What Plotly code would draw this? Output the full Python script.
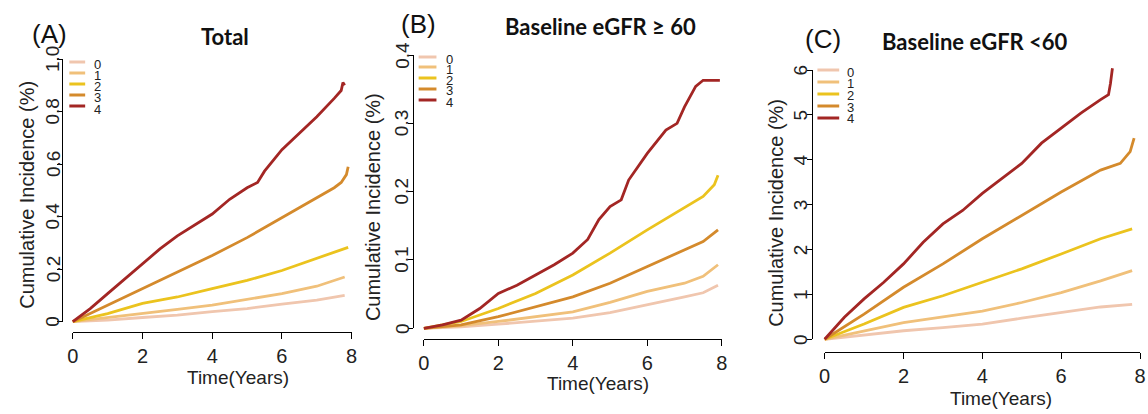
import plotly.graph_objects as go

# ---------------- data ----------------
groups = ["0", "1", "2", "3", "4"]
x_ticks = [0, 2, 4, 6, 8]

# Panel A: Total
a_t0 = [0, 1, 2, 3, 4, 5, 6, 7, 7.8]
a_v0 = [0, 0.006, 0.016, 0.025, 0.038, 0.05, 0.067, 0.082, 0.10]
a_t1 = [0, 1, 2, 3, 4, 5, 6, 7, 7.8]
a_v1 = [0, 0.015, 0.031, 0.047, 0.063, 0.084, 0.107, 0.135, 0.17]
a_t2 = [0, 1, 2, 3, 4, 5, 6, 7, 7.9]
a_v2 = [0, 0.031, 0.07, 0.094, 0.126, 0.157, 0.195, 0.24, 0.283]
a_t3 = [0, 1, 2, 3, 4, 5, 6, 7, 7.5, 7.7, 7.85, 7.9]
a_v3 = [0, 0.063, 0.126, 0.19, 0.252, 0.32, 0.397, 0.472, 0.51, 0.53, 0.56, 0.59]
a_t4 = [0, 0.5, 1, 1.5, 2, 2.5, 3, 3.5, 4, 4.5, 5, 5.3, 5.5, 6, 6.5, 7, 7.5, 7.7, 7.75, 7.8]
a_v4 = [0, 0.05, 0.107, 0.164, 0.22, 0.277, 0.327, 0.37, 0.41, 0.466, 0.51, 0.53,
        0.573, 0.655, 0.718, 0.78, 0.85, 0.88, 0.91, 0.9]
a_yticks = [0, 0.2, 0.4, 0.6, 0.8, 1.0]
a_yticktext = ["0", "0.2", "0.4", "0.6", "0.8", "1.0"]

# Panel B: Baseline eGFR >= 60
b_t0 = [0, 1, 2, 3, 4, 5, 6, 7, 7.5, 7.9]
b_v0 = [0, 0.002, 0.006, 0.01, 0.015, 0.023, 0.034, 0.046, 0.052, 0.063]
b_t1 = [0, 1, 2, 3, 4, 5, 6, 7, 7.5, 7.9]
b_v1 = [0, 0.004, 0.01, 0.017, 0.024, 0.038, 0.054, 0.066, 0.076, 0.093]
b_t2 = [0, 1, 2, 3, 4, 5, 6, 7, 7.5, 7.8, 7.9]
b_v2 = [0, 0.01, 0.029, 0.051, 0.078, 0.11, 0.144, 0.176, 0.193, 0.21, 0.224]
b_t3 = [0, 1, 2, 3, 4, 5, 6, 7, 7.5, 7.9]
b_v3 = [0, 0.005, 0.017, 0.032, 0.046, 0.066, 0.09, 0.115, 0.127, 0.144]
b_t4 = [0, 0.5, 1, 1.5, 2, 2.5, 3, 3.5, 4, 4.4, 4.7, 5, 5.3, 5.5, 6, 6.5, 6.8, 7, 7.3, 7.5, 7.95]
b_v4 = [0, 0.005, 0.012, 0.029, 0.051, 0.063, 0.078, 0.093, 0.11, 0.13, 0.159, 0.178,
        0.188, 0.217, 0.256, 0.29, 0.30, 0.324, 0.354, 0.363, 0.363]
b_yticks = [0, 0.1, 0.2, 0.3, 0.4]
b_yticktext = ["0", "0.1", "0.2", "0.3", "0.4"]

# Panel C: Baseline eGFR < 60
c_t0 = [0, 1, 2, 3, 4, 5, 6, 7, 7.8]
c_v0 = [0, 0.09, 0.19, 0.26, 0.34, 0.47, 0.6, 0.72, 0.78]
c_t1 = [0, 1, 2, 3, 4, 5, 6, 7, 7.8]
c_v1 = [0, 0.19, 0.37, 0.5, 0.63, 0.82, 1.04, 1.3, 1.53]
c_t2 = [0, 1, 2, 3, 4, 5, 6, 7, 7.8]
c_v2 = [0, 0.34, 0.71, 0.97, 1.27, 1.57, 1.9, 2.24, 2.46]
c_t3 = [0, 1, 2, 3, 4, 5, 6, 7, 7.5, 7.75, 7.85]
c_v3 = [0, 0.56, 1.16, 1.68, 2.24, 2.76, 3.28, 3.77, 3.92, 4.18, 4.48]
c_t4 = [0, 0.5, 1, 1.5, 2, 2.5, 3, 3.5, 4, 4.5, 5, 5.5, 6, 6.5, 7, 7.2, 7.25, 7.3]
c_v4 = [0, 0.49, 0.9, 1.27, 1.68, 2.16, 2.57, 2.87, 3.25, 3.58, 3.92, 4.37, 4.7,
        5.04, 5.34, 5.45, 5.7, 6.04]
c_yticks = [0, 1, 2, 3, 4, 5, 6]
c_yticktext = ["0", "1", "2", "3", "4", "5", "6"]

titles = ["Total", "Baseline eGFR \u2265 60", "Baseline eGFR <60"]
letters = ["(A)", "(B)", "(C)"]
x_title = "Time(Years)"
y_title = "Cumulative Incidence (%)"

# ---------------- style ----------------
colors = ["#F0C6AE", "#F0C07A", "#EBC31E", "#D48A2C", "#A32624"]
W, H = 1148, 414
FONT = "Liberation Sans, Arial, sans-serif"
TFONT = "Lato, Liberation Sans, sans-serif"


def px(x):
    return x / W


def py(y):
    return 1 - y / H


panels = [
    dict(series=[(a_t0, a_v0), (a_t1, a_v1), (a_t2, a_v2), (a_t3, a_v3), (a_t4, a_v4)],
         top=1.0, yticks=a_yticks, ytext=a_yticktext,
         x0p=67.5, x8p=349.3, y0p=321.7, ytp=59, yline=56.5, xline=332, xmax=8.3, ylab_x=47.5,
         letter_pos=(44, 34), title_pos=(221, 37), xt_pos=(234, 377), yt_pos=(21, 195),
         leg_x=(64, 80), leg_y=[62, 73, 84, 95, 106], lab_x=92, lab_y=[64, 75, 86, 97, 109]),
    dict(series=[(b_t0, b_v0), (b_t1, b_v1), (b_t2, b_v2), (b_t3, b_v3), (b_t4, b_v4)],
         top=0.4, yticks=b_yticks, ytext=b_yticktext,
         x0p=422.3, x8p=723.3, y0p=328.3, ytp=55, yline=411, xline=338.5, xmax=8.3, ylab_x=400,
         letter_pos=(417, 24), title_pos=(601, 26), xt_pos=(598, 383), yt_pos=(371, 207),
         leg_x=(417, 435), leg_y=[57, 67, 78, 89, 100], lab_x=448, lab_y=[60, 70, 81, 91, 102]),
    dict(series=[(c_t0, c_v0), (c_t1, c_v1), (c_t2, c_v2), (c_t3, c_v3), (c_t4, c_v4)],
         top=6, yticks=c_yticks, ytext=c_yticktext,
         x0p=827.3, x8p=1146, y0p=339.3, ytp=70, yline=815, xline=352.3, xmax=8.04, ylab_x=803,
         letter_pos=(826, 39), title_pos=(979, 41), xt_pos=(1006, 398), yt_pos=(778, 213),
         leg_x=(820, 842), leg_y=[70, 82, 94, 106, 118], lab_x=853, lab_y=[72, 83, 95, 107, 119]),
]

fig = go.Figure()
layout = {}
annotations = []
shapes = []

for i, p in enumerate(panels):
    k = i + 1
    kt = i + 4
    sx = (p["x8p"] - p["x0p"]) / 8
    sy = (p["y0p"] - p["ytp"]) / p["top"]
    xmin, xmax = -0.3, p["xmax"]
    ymin, ymax = -0.04 * p["top"], 1.04 * p["top"]
    # invisible data axes
    layout[f"xaxis{k}"] = dict(domain=[px(p["x0p"] + xmin * sx), min(1, px(p["x0p"] + xmax * sx))],
                               range=[xmin, xmax], visible=False, anchor=f"y{k}")
    layout[f"yaxis{k}"] = dict(domain=[py(p["y0p"] - ymin * sy), py(p["y0p"] - ymax * sy)],
                               range=[ymin, ymax], visible=False, anchor=f"x{k}")
    for g, (t, v) in enumerate(p["series"]):
        fig.add_trace(go.Scatter(x=t, y=v, mode="lines", xaxis=f"x{k}", yaxis=f"y{k}",
                                 line=dict(color=colors[g], width=2.8), showlegend=False,
                                 hoverinfo="skip"))
    # detached R-style axes
    layout[f"xaxis{kt}"] = dict(domain=[px(p["x0p"]), px(p["x8p"])], range=[0, 8],
                                anchor="free", position=py(p["xline"]),
                                showline=True, linecolor="black", linewidth=1.3,
                                ticks="outside", ticklen=6, tickwidth=1.3, tickcolor="black",
                                tickvals=x_ticks, showgrid=False, zeroline=False,
                                tickfont=dict(family=FONT, size=20, color="#222"))
    layout[f"yaxis{kt}"] = dict(domain=[py(p["y0p"]), py(p["ytp"])], range=[0, p["top"]],
                                anchor="free", position=px(p["yline"]),
                                showline=True, linecolor="black", linewidth=1.3,
                                ticks="outside", ticklen=5, tickwidth=1.3, tickcolor="black",
                                tickvals=p["yticks"], showticklabels=False,
                                showgrid=False, zeroline=False)
    fig.add_trace(go.Scatter(x=[None], y=[None], xaxis=f"x{kt}", yaxis=f"y{kt}",
                             showlegend=False, hoverinfo="skip"))
    # rotated y tick labels placed close to the axis (as in base R)
    for val, txt in zip(p["yticks"], p["ytext"]):
        annotations.append(dict(text=txt, x=px(p["ylab_x"]), y=val, xref="paper", yref=f"y{kt}",
                                showarrow=False, textangle=-90, xanchor="center", yanchor="middle",
                                font=dict(family=FONT, size=19, color="#222")))

    annotations.append(dict(text=letters[i], x=px(p["letter_pos"][0]), y=py(p["letter_pos"][1]),
                            xref="paper", yref="paper", showarrow=False,
                            xanchor="center", yanchor="middle",
                            font=dict(family=FONT, size=26, color="#111")))
    annotations.append(dict(text=f"<b>{titles[i]}</b>", x=px(p["title_pos"][0]), y=py(p["title_pos"][1]),
                            xref="paper", yref="paper", showarrow=False,
                            xanchor="center", yanchor="middle",
                            font=dict(family=TFONT, size=22, color="#111")))
    annotations.append(dict(text=x_title, x=px(p["xt_pos"][0]), y=py(p["xt_pos"][1]),
                            xref="paper", yref="paper", showarrow=False,
                            xanchor="center", yanchor="middle",
                            font=dict(family=FONT, size=19, color="#222")))
    annotations.append(dict(text=y_title, x=px(p["yt_pos"][0]), y=py(p["yt_pos"][1]),
                            xref="paper", yref="paper", showarrow=False, textangle=-90,
                            xanchor="center", yanchor="middle",
                            font=dict(family=FONT, size=20, color="#222")))
    # legend keys and labels
    for g in range(5):
        shapes.append(dict(type="line", xref="paper", yref="paper",
                           x0=px(p["leg_x"][0]), x1=px(p["leg_x"][1]),
                           y0=py(p["leg_y"][g]), y1=py(p["leg_y"][g]),
                           line=dict(color=colors[g], width=3)))
        annotations.append(dict(text=groups[g], x=px(p["lab_x"]), y=py(p["lab_y"][g]),
                                xref="paper", yref="paper", showarrow=False,
                                xanchor="center", yanchor="middle",
                                font=dict(family=FONT, size=13, color="#222")))

fig.update_layout(width=W, height=H, margin=dict(l=0, r=0, t=0, b=0),
                  paper_bgcolor="white", plot_bgcolor="rgba(0,0,0,0)",
                  showlegend=False, annotations=annotations, shapes=shapes, **layout)

fig.write_html("out.html")
